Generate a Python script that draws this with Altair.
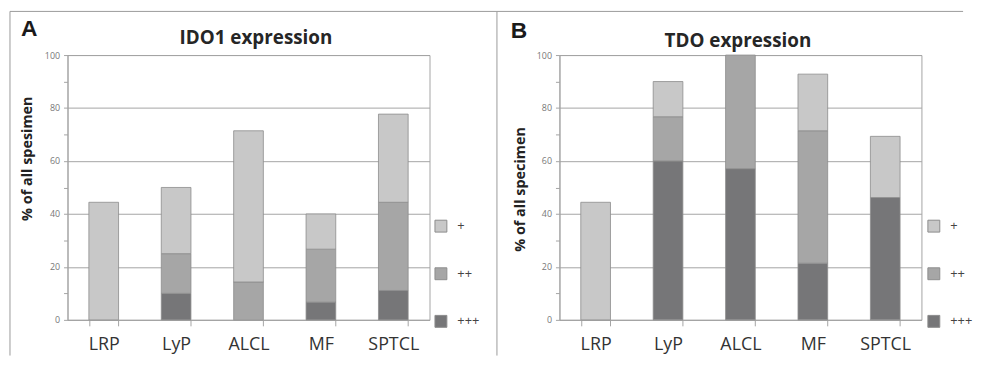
import altair as alt
import pandas as pd

categories = ["LRP", "LyP", "ALCL", "MF", "SPTCL"]
levels = ["+", "++", "+++"]
level_colors = ["#c8c8c8", "#a6a6a6", "#767678"]

# IDO1 expression (% of all specimens)
ido1_plus = [44.4, 25.0, 57.1, 13.3, 33.3]
ido1_plus2 = [0.0, 15.0, 14.3, 20.0, 33.3]
ido1_plus3 = [0.0, 10.0, 0.0, 6.7, 11.1]

# TDO expression (% of all specimens)
tdo_plus = [44.4, 13.3, 0.0, 21.4, 23.1]
tdo_plus2 = [0.0, 16.7, 42.9, 50.0, 0.0]
tdo_plus3 = [0.0, 60.0, 57.1, 21.4, 46.2]

y_ticks = [0, 10, 20, 30, 40, 50, 60, 70, 80, 90, 100]

W, H = 365, 267
GRAY = "#a4a4a4"
FONT = "Open Sans"


def make_df(plus, plus2, plus3):
    rows = []
    for i, c in enumerate(categories):
        for lvl, vals, rank in (("+++", plus3, 0), ("++", plus2, 1), ("+", plus, 2)):
            if vals[i] > 0:
                rows.append({"cat": c, "level": lvl, "value": vals[i], "rank": rank})
    return pd.DataFrame(rows)


one = pd.DataFrame({"k": [0]})


def panel(df, title, title_x, title_y, letter, ytitle, ytitle_x, ytitle_y, letter_x, letter_y,
          legend_x, left_frame_x, top_x2):
    bars = alt.Chart(df).mark_bar(stroke="#8c8c8c", strokeWidth=0.8).encode(
        x=alt.X("cat:N", sort=categories,
                scale=alt.Scale(paddingInner=0.59, paddingOuter=0.295),
                axis=alt.Axis(title=None, labelAngle=0, labelFontSize=18, labelColor="#333333",
                              labelFont=FONT, labelPadding=10, tickBand="extent", tickSize=6,
                              tickColor=GRAY, domainColor=GRAY, grid=False)),
        y=alt.Y("value:Q", stack="zero",
                scale=alt.Scale(domain=[0, 100], nice=False),
                axis=alt.Axis(values=y_ticks, title=ytitle,
                              labelExpr="datum.value % 20 == 0 ? datum.label : ''",
                              labelFontSize=9, labelColor="#777777", labelFont=FONT,
                              labelPadding=4, tickSize=4, tickColor=GRAY, domainColor=GRAY,
                              grid=True, gridColor=GRAY, gridWidth=1,
                              gridOpacity={"condition": {"test": "datum.value % 20 === 0", "value": 1}, "value": 0},
                              titleFontSize=14.5, titleFont=FONT, titleFontWeight="bold",
                              titleColor="#222222", titleX=ytitle_x, titleY=ytitle_y,
                              titleBaseline="middle", titleAngle=-90)),
        color=alt.Color("level:N", scale=alt.Scale(domain=levels, range=level_colors),
                        legend=alt.Legend(title=None, orient="none", legendX=legend_x, legendY=166,
                                          symbolType="square", symbolSize=144,
                                          symbolStrokeColor="#8c8c8c", symbolStrokeWidth=1,
                                          labelFontSize=13, labelColor="#444444", labelFont=FONT,
                                          rowPadding=31, padding=0, labelOffset=10)),
        order=alt.Order("rank:Q", sort="ascending"),
    )
    title_mark = alt.Chart(one).mark_text(
        text=title, fontSize=19, fontWeight="bold", font=FONT,
        align="center", baseline="middle", color="#262626"
    ).encode(x=alt.value(title_x), y=alt.value(title_y))
    letter_mark = alt.Chart(one).mark_text(
        text=letter, fontSize=23, fontWeight="bold", font="Liberation Sans",
        align="left", baseline="alphabetic", color="#1a1a1a"
    ).encode(x=alt.value(letter_x), y=alt.value(letter_y))
    left_line = alt.Chart(one).mark_rule(color="#9a9a9a", strokeWidth=1).encode(
        x=alt.value(left_frame_x), y=alt.value(-44), y2=alt.value(303))
    top_line = alt.Chart(one).mark_rule(color="#9a9a9a", strokeWidth=1).encode(
        x=alt.value(left_frame_x), x2=alt.value(top_x2), y=alt.value(-44))
    return alt.layer(bars, title_mark, letter_mark, left_line, top_line).properties(
        width=W, height=H,
    )


pa = panel(make_df(ido1_plus, ido1_plus2, ido1_plus3), "IDO1 expression", 190, -17, "A",
           "% of all spesimen", -40, 104, -47, -19, 370, -58, 433)
pb = panel(make_df(tdo_plus, tdo_plus2, tdo_plus3), "TDO expression", 180, -14, "B",
           "% of all specimen", -39, 135, -49, -17, 371, -63, 407)

chart = alt.hconcat(pa, pb, spacing=131, bounds="flush").resolve_scale(
    color="independent"
).properties(
    padding={"left": 1, "top": 1, "right": 0, "bottom": 0}
).configure_view(stroke=GRAY, strokeWidth=1)

chart.save("out.html", embed_options={"renderer": "svg", "actions": False})
